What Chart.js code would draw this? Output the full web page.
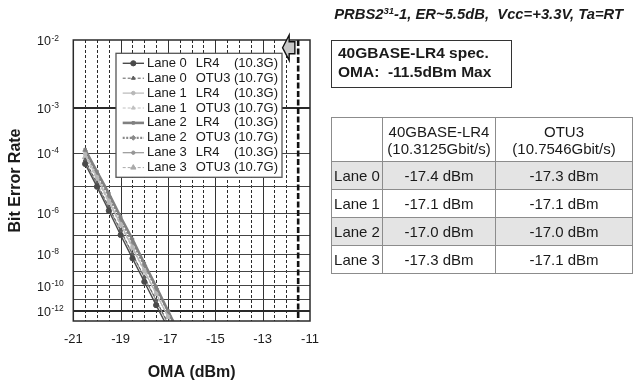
<!DOCTYPE html>
<html>
<head>
<meta charset="utf-8">
<script src="https://cdn.jsdelivr.net/npm/chart.js@4.4.1/dist/chart.umd.min.js"></script>
<style>
  html, body { margin: 0; padding: 0; background: #fff; }
  body { width: 634px; height: 383px; position: relative; overflow: hidden;
         font-family: "Liberation Sans", Arial, Helvetica, sans-serif; color: #1a1a1a; }
  #plot { position: absolute; left: 0; top: 0; }
  #cond { position: absolute; top: 6px; right: 11px; font-weight: bold; font-style: italic;
          font-size: 14.8px; white-space: nowrap; }
  #cond sup { font-size: 9.5px; vertical-align: 5px; line-height: 0; }
  #spec { position: absolute; left: 331px; top: 40px; width: 181px; height: 48px;
          border: 1.4px solid #333; box-sizing: border-box; font-weight: bold;
          font-size: 15.5px; line-height: 19.4px; padding: 2px 0 0 6px; white-space: pre; }
  #sens { position: absolute; left: 331px; top: 117px; border-collapse: collapse;
          table-layout: fixed; width: 301px; font-size: 15px; border: 1.4px solid #555; }
  #sens td { border: 1px solid #8c8c8c; text-align: center; padding: 0; height: 27px;
             white-space: nowrap; }
  #sens tr.hd td { height: 43px; line-height: 17px; }
  #sens tr.shade td { background: #e4e4e4; }
</style>
</head>
<body>
<canvas id="plot" width="634" height="383"></canvas>
<div id="cond">PRBS2<sup>31</sup>-1, ER~5.5dB,&nbsp; Vcc=+3.3V, Ta=RT</div>
<div id="spec">40GBASE-LR4 spec.
OMA:  -11.5dBm Max</div>
<table id="sens">
  <colgroup><col style="width:51px"><col style="width:113px"><col style="width:137px"></colgroup>
  <tbody id="sensBody"></tbody>
</table>
<script>
// ---- measured data -------------------------------------------------------
const omaDbm = [-20.5, -20, -19.5, -19, -18.5, -18, -17.5, -17, -16.5];

const seriesLane = ['Lane 0', 'Lane 0', 'Lane 1', 'Lane 1', 'Lane 2', 'Lane 2', 'Lane 3', 'Lane 3'];
const seriesMode = ['LR4', 'OTU3', 'LR4', 'OTU3', 'LR4', 'OTU3', 'LR4', 'OTU3'];
const seriesRate = ['(10.3G)', '(10.7G)', '(10.3G)', '(10.7G)', '(10.3G)', '(10.7G)', '(10.3G)', '(10.7G)'];

const berLane0LR4  = [4.9e-5, 9.5e-6, 1.2e-6, 9.9e-8, 5.6e-9, 1.8e-10, 3.0e-12, 2.5e-14];
const berLane0OTU3 = [6.3e-5, 1.26e-5, 1.7e-6, 1.7e-7, 9.9e-9, 3.8e-10, 7.8e-12, 7.7e-14];
const berLane1LR4  = [9.2e-5, 1.97e-5, 3.0e-6, 3.25e-7, 2.4e-8, 1.0e-9, 2.5e-11, 3.1e-13, 1.5e-15];
const berLane1OTU3 = [8.1e-5, 1.7e-5, 2.66e-6, 2.9e-7, 2.1e-8, 9.3e-10, 2.3e-11, 2.8e-13, 1.5e-15];
const berLane2LR4  = [1.2e-4, 2.9e-5, 5.6e-6, 6.6e-7, 6.0e-8, 2.8e-9, 8.0e-11, 1.0e-12, 4.9e-15];
const berLane2OTU3 = [1.1e-4, 2.45e-5, 4.3e-6, 4.9e-7, 4.1e-8, 2.1e-9, 5.9e-11, 9.0e-13, 4.9e-15];
const berLane3LR4  = [5.9e-5, 1.12e-5, 1.55e-6, 1.54e-7, 9.3e-9, 3.5e-10, 7.1e-12, 6.2e-14];
const berLane3OTU3 = [7.6e-5, 1.64e-5, 2.55e-6, 2.8e-7, 2.0e-8, 8.7e-10, 2.3e-11, 2.8e-13, 1.5e-15];

// receiver sensitivity at BER 1e-12 (dBm)
const tableLanes = ['Lane 0', 'Lane 1', 'Lane 2', 'Lane 3'];
const sensLR4  = [-17.4, -17.1, -17.0, -17.3];
const sensOTU3 = [-17.3, -17.1, -17.0, -17.1];

// axis ticks
const xTickLabels = [-21, -19, -17, -15, -13, -11];
const xGridValues = [-20.5, -20, -19.5, -19, -18.5, -18, -17.5, -17, -16.5, -16, -15.5, -15,
                     -14.5, -14, -13.5, -13, -12.5, -12];
const yDecades = [3, 4, 5, 6, 7, 8, 9, 10, 11, 12];
const yLabelDecades = [2, 3, 4, 6, 8, 10, 12];
const yTopBer = 1e-2;
const yBottomBer = 1.2e-13;
const specOma = -11.5;

// ---- BER axis transform (error-function style scale) --------------------
function berScale(b) { return Math.log10(-Math.log10(b) - 0.5); }

const berSeries = [berLane0LR4, berLane0OTU3, berLane1LR4, berLane1OTU3,
                   berLane2LR4, berLane2OTU3, berLane3LR4, berLane3OTU3];

const seriesStyle = [
  { color: '#4a4a4a', width: 1.4, dash: [],        point: 'circle',   r: 2.6 },
  { color: '#5e5e5e', width: 1,   dash: [3, 2],    point: 'triangle', r: 2.2 },
  { color: '#b8b8b8', width: 1.2, dash: [],        point: 'circle',   r: 1.8 },
  { color: '#c0c0c0', width: 1,   dash: [3, 2],    point: 'triangle', r: 2.2 },
  { color: '#808080', width: 2.6, dash: [],        point: 'rect',     r: 1.8 },
  { color: '#8a8a8a', width: 2.2, dash: [2, 1.5],  point: 'rectRot',  r: 2.4 },
  { color: '#969696', width: 1.2, dash: [],        point: 'circle',   r: 1.7 },
  { color: '#aaaaaa', width: 1,   dash: [3, 2],    point: 'triangle', r: 3 }
];

const datasets = berSeries.map((vals, i) => {
  const s = seriesStyle[i];
  return {
    label: seriesLane[i] + ' ' + seriesMode[i] + ' ' + seriesRate[i],
    data: vals.map((b, k) => ({ x: omaDbm[k], y: berScale(b) })),
    borderColor: s.color,
    borderWidth: s.width,
    borderDash: s.dash,
    pointStyle: s.point,
    pointRadius: s.r,
    pointBackgroundColor: s.color,
    pointBorderColor: s.color,
    pointBorderWidth: 1,
    tension: 0,
    fill: false
  };
});

// ---- sensitivity table --------------------------------------------------
(function buildTable() {
  const body = document.getElementById('sensBody');
  const head = document.createElement('tr');
  head.className = 'hd';
  head.innerHTML = '<td></td><td>40GBASE-LR4<br>(10.3125Gbit/s)</td><td>OTU3<br>(10.7546Gbit/s)</td>';
  body.appendChild(head);
  tableLanes.forEach((lane, i) => {
    const tr = document.createElement('tr');
    if (i % 2 === 0) tr.className = 'shade';
    tr.innerHTML = '<td>' + lane + '</td><td>' + sensLR4[i].toFixed(1) + ' dBm</td><td>' +
                   sensOTU3[i].toFixed(1) + ' dBm</td>';
    body.appendChild(tr);
  });
})();

// ---- grid, spec line, legend and decade labels ---------------------------
const FONT = '"Liberation Sans", Arial, Helvetica, sans-serif';

const berDecor = {
  id: 'berDecor',
  beforeDatasetsDraw(chart) {
    const { ctx, chartArea: ca, scales: { x, y } } = chart;
    ctx.save();
    xGridValues.forEach(v => {
      const px = Math.round(x.getPixelForValue(v)) + 0.5;
      const solid = xTickLabels.includes(v);
      ctx.beginPath();
      ctx.setLineDash(solid ? [] : [3, 2]);
      ctx.strokeStyle = solid ? '#333' : '#2a2a2a';
      ctx.lineWidth = 1;
      ctx.moveTo(px, ca.top);
      ctx.lineTo(px, ca.bottom);
      ctx.stroke();
    });
    ctx.setLineDash([]);
    yDecades.forEach(d => {
      const heavy = (d === 3 || d === 12);
      const py = Math.round(y.getPixelForValue(berScale(Math.pow(10, -d)))) + (heavy ? 0 : 0.5);
      ctx.beginPath();
      ctx.strokeStyle = heavy ? '#2a2a2a' : '#444';
      ctx.lineWidth = heavy ? 2 : 1;
      ctx.moveTo(ca.left, py);
      ctx.lineTo(ca.right, py);
      ctx.stroke();
    });
    // spec limit line
    const sx = x.getPixelForValue(specOma);
    ctx.beginPath();
    ctx.setLineDash([6, 2.5]);
    ctx.strokeStyle = '#111';
    ctx.lineWidth = 2.6;
    ctx.moveTo(sx, ca.top);
    ctx.lineTo(sx, ca.bottom);
    ctx.stroke();
    ctx.restore();
  },
  afterDatasetsDraw(chart) {
    const { ctx, chartArea: ca, scales: { x, y } } = chart;
    ctx.save();
    // legend box
    const lx = ca.left + 42.7, ly = ca.top + 13.3, lw = 166, lh = 124;
    ctx.fillStyle = '#fff';
    ctx.fillRect(lx, ly, lw, lh);
    ctx.strokeStyle = '#555';
    ctx.lineWidth = 1.3;
    ctx.strokeRect(lx, ly, lw, lh);
    ctx.font = '13px ' + FONT;
    ctx.textBaseline = 'middle';
    chart.data.datasets.forEach((ds, i) => {
      const ry = ly + 10 + i * 14.9;
      ctx.beginPath();
      ctx.setLineDash(ds.borderDash);
      ctx.strokeStyle = ds.borderColor;
      ctx.lineWidth = ds.borderWidth;
      ctx.moveTo(lx + 6.7, ry);
      ctx.lineTo(lx + 28, ry);
      ctx.stroke();
      ctx.setLineDash([]);
      ctx.fillStyle = ds.pointBackgroundColor;
      ctx.strokeStyle = ds.pointBorderColor;
      ctx.lineWidth = 1;
      Chart.helpers.drawPoint(ctx, { pointStyle: ds.pointStyle, radius: ds.pointRadius,
                                     rotation: 0, borderWidth: 1 }, lx + 17.3, ry);
      ctx.fillStyle = '#1a1a1a';
      ctx.textAlign = 'left';
      ctx.fillText(seriesLane[i], lx + 31, ry);
      ctx.fillText(seriesMode[i], lx + 79.7, ry);
      ctx.textAlign = 'right';
      ctx.fillText(seriesRate[i], lx + 162, ry);
    });
    // plot frame
    ctx.strokeStyle = '#2a2a2a';
    ctx.lineWidth = 1.5;
    ctx.strokeRect(ca.left, ca.top, ca.right - ca.left, ca.bottom - ca.top);
    // arrow pointing to the spec limit
    const sx = x.getPixelForValue(specOma);
    const t = ca.top;
    ctx.beginPath();
    ctx.moveTo(sx - 15.6, t + 7.7);
    ctx.lineTo(sx - 9, t - 5);
    ctx.lineTo(sx - 9, t + 1.7);
    ctx.lineTo(sx - 3.3, t + 1.7);
    ctx.lineTo(sx - 3.3, t + 13.7);
    ctx.lineTo(sx - 9, t + 13.7);
    ctx.lineTo(sx - 9, t + 20.3);
    ctx.closePath();
    ctx.fillStyle = '#c8c8c8';
    ctx.fill();
    ctx.strokeStyle = '#111';
    ctx.lineWidth = 1.4;
    ctx.stroke();
    // decade labels 10^-n
    ctx.fillStyle = '#1a1a1a';
    ctx.textAlign = 'left';
    yLabelDecades.forEach(d => {
      const py = y.getPixelForValue(berScale(Math.pow(10, -d)));
      ctx.font = '12.5px ' + FONT;
      ctx.textBaseline = 'middle';
      ctx.fillText('10', 37, py + 2);
      const w = ctx.measureText('10').width;
      ctx.font = '8.5px ' + FONT;
      ctx.textBaseline = 'alphabetic';
      ctx.fillText('-' + d, 37 + w + 0.5, py + 0.5);
    });
    ctx.restore();
  }
};

new Chart(document.getElementById('plot'), {
  type: 'line',
  data: { datasets },
  options: {
    responsive: false,
    animation: false,
    layout: { padding: { top: 40, right: 324, bottom: 0, left: 0 } },
    plugins: { legend: { display: false }, tooltip: { enabled: false } },
    scales: {
      x: {
        type: 'linear',
        min: -21, max: -11,
        grid: { display: false, drawTicks: false },
        border: { display: false },
        afterBuildTicks: s => { s.ticks = xTickLabels.map(v => ({ value: v })); },
        afterFit: s => { s.height = 62; },
        ticks: { padding: 11, color: '#1a1a1a', font: { family: FONT, size: 13 },
                 maxRotation: 0, autoSkip: false, callback: v => String(v) },
        title: { display: true, text: 'OMA (dBm)', color: '#1a1a1a',
                 font: { family: FONT, size: 16, weight: 'bold' }, padding: { top: 4, bottom: 1 } }
      },
      y: {
        type: 'linear',
        reverse: true,
        min: berScale(yTopBer), max: berScale(yBottomBer),
        grid: { display: false, drawTicks: false },
        border: { display: false },
        ticks: { display: false },
        afterFit: s => { s.width = 73.3; },
        title: { display: true, text: 'Bit Error Rate', color: '#1a1a1a',
                 font: { family: FONT, size: 16, weight: 'bold' }, padding: { top: 6, bottom: 0 } }
      }
    }
  },
  plugins: [berDecor]
});
</script>
</body>
</html>
